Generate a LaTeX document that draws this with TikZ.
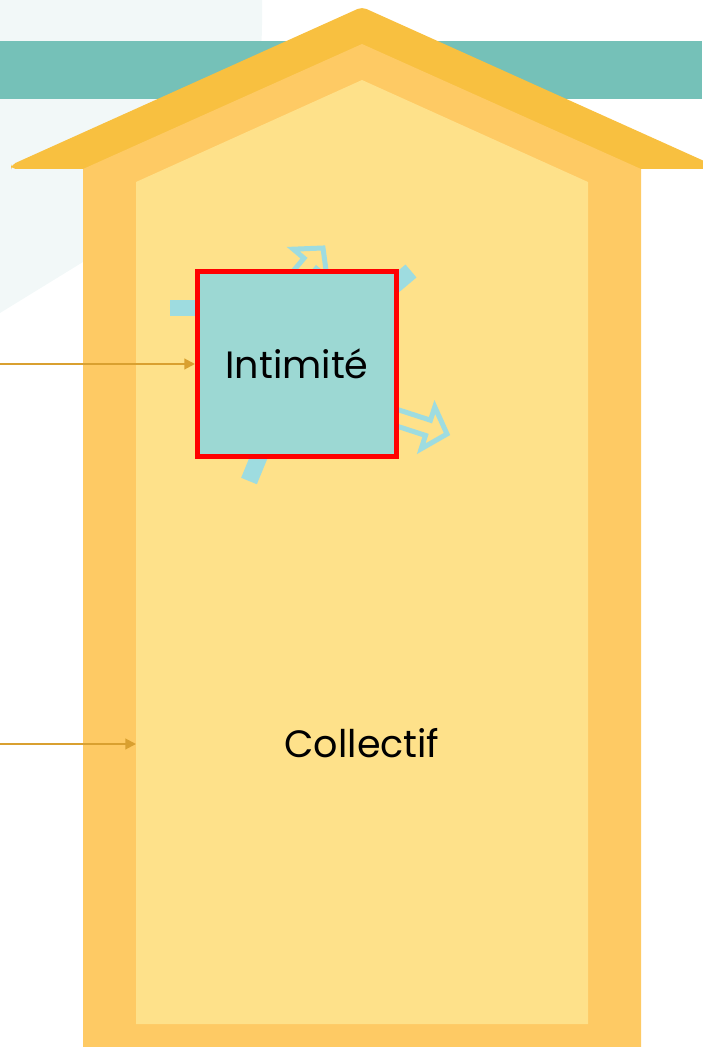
\documentclass[tikz,border=0pt]{standalone}
\usepackage{fontspec}
\setmainfont{Poppins}
\usetikzlibrary{arrows.meta}
\definecolor{palebg}{HTML}{F2F8F8}
\definecolor{bandteal}{HTML}{75C1B8}
\definecolor{roofdark}{HTML}{F8C040}
\definecolor{wallmid}{HTML}{FECA64}
\definecolor{roomlight}{HTML}{FEE18A}
\definecolor{boxteal}{HTML}{9CD8D3}
\definecolor{boxred}{HTML}{FF0000}
\definecolor{whirlblue}{HTML}{9EDCE0}
\definecolor{pointerorange}{HTML}{D9A030}
\tikzset{
  hollowarr/.style={draw=whirlblue, line width=4.25pt, fill=roomlight, miter limit=4},
  whirlbar/.style={draw=whirlblue, line width=14.5pt},
  pointer/.style={draw=pointerorange, line width=1.7pt, -{Triangle[length=9pt,width=9pt]}},
  label/.style={font=\fontsize{32.5}{38}\selectfont, text=black}
}
\begin{document}
\begin{tikzpicture}[x=0.03cm, y=-0.03cm]
\useasboundingbox (0,0) rectangle (702,1047);
\fill[palebg] (0,0) -- (262,0) -- (262,25) .. controls (262,130) and (190,205) .. (83,262) -- (0,313) -- cycle;
\fill[bandteal] (0,41) rectangle (702,99);
\fill[roofdark, rounded corners=4] (11,165) -- (362,7) -- (713,165) -- (713,169) -- (11,169) -- cycle;
\fill[wallmid] (83,169) -- (362,44) -- (641,169) -- (641,1047) -- (83,1047) -- cycle;
\fill[roomlight] (136,182) -- (362,80) -- (588,182) -- (588,1024) -- (136,1024) -- cycle;

\draw[whirlbar] (411,271) -- (366,309);
  \draw[whirlbar] (170,308) -- (230,308);
\draw[whirlbar] (249,481) -- (272,425);
\draw[hollowarr, shift={(323,248)}, rotate=50] (0,0) -- (-20,22) -- (-20,8) -- (-90,8) -- (-90,-8) -- (-20,-8) -- (-20,-22) -- cycle;
  \draw[hollowarr, shift={(447,434)}, rotate=-18] (0,0) -- (-20,22) -- (-20,8) -- (-90,8) -- (-90,-8) -- (-20,-8) -- (-20,-22) -- cycle;

\node[label, draw=boxred, line width=4.25pt, fill=boxteal, minimum width=5.97cm, minimum height=5.55cm, inner sep=0pt] (intim) at (297,364) {Intimité};
\node[label] (coll) at (362,743) {Collectif};

\coordinate (srcintim) at (0,364);
  \coordinate (srccoll) at (0,744);
\coordinate (roomedge) at (136,744);
\draw[pointer] (srcintim) -- (intim.west);
\draw[pointer] (srccoll) -- (roomedge);
\end{tikzpicture}
\end{document}
